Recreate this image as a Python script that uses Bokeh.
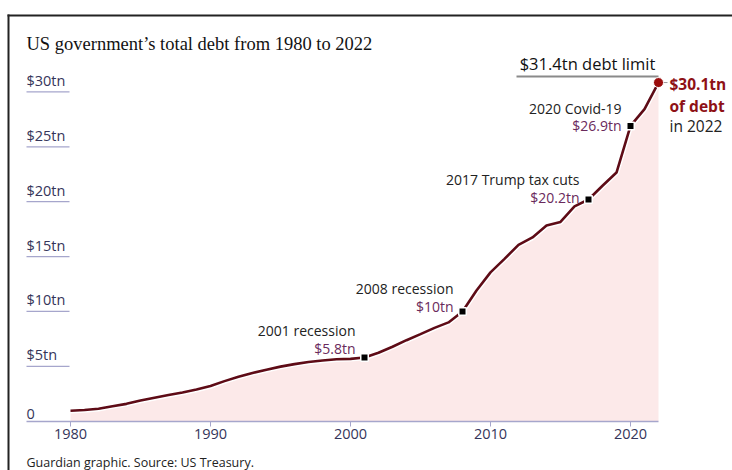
from bokeh.plotting import figure
from bokeh.models import Range1d, LinearAxis, FixedTicker
from bokeh.core.properties import value
from bokeh.embed import file_html
from bokeh.resources import INLINE

# ---------------- data ----------------
years = list(range(1980, 2023))
debt = [0.95, 1.02, 1.14, 1.37, 1.58, 1.88, 2.14, 2.38, 2.62, 2.88, 3.2,
        3.65, 4.05, 4.4, 4.69, 4.97, 5.2, 5.4, 5.53, 5.64, 5.68, 5.8,
        6.23, 6.78, 7.38, 7.93, 8.5, 9.0, 10.0, 11.9, 13.56, 14.79,
        16.07, 16.74, 17.82, 18.15, 19.57, 20.2, 21.45, 22.65, 26.9,
        28.43, 30.85]

x_ticks = [1980, 1990, 2000, 2010, 2020]
y_ticks = [0, 5, 10, 15, 20, 25, 30]
y_tick_labels = ["0", "$5tn", "$10tn", "$15tn", "$20tn", "$25tn", "$30tn"]

event_years = [2001, 2008, 2017, 2020]
event_values = [5.8, 10.0, 20.2, 26.9]
event_names = ["2001 recession", "2008 recession", "2017 Trump tax cuts", "2020 Covid-19"]
event_amounts = ["$5.8tn", "$10tn", "$20.2tn", "$26.9tn"]

debt_limit = 31.4
debt_limit_label = "$31.4tn debt limit"
end_lines = ["$30.1tn", "of debt", "in 2022"]

title = "US government\u2019s total debt from 1980 to 2022"
source = "Guardian graphic. Source: US Treasury."

# ---------------- layout constants (pixels -> data) ----------------
W, H = 732, 470
PX_PER_YEAR = 14.0
X_LEFT = 1975.0                 # year at canvas left edge
PX_PER_TN = 10.977
ZERO_PX = 420.7                 # pixel row of y = 0

def xd(px):
    return X_LEFT + px / PX_PER_YEAR

def yd(py):
    return (ZERO_PX - py) / PX_PER_TN

p = figure(width=W, height=H, output_backend="svg", toolbar_location=None,
           x_axis_type=None, y_axis_type=None, min_border=0,
           x_range=Range1d(xd(0), xd(W)), y_range=Range1d(yd(H), yd(0)))
p.outline_line_color = None
p.background_fill_color = "white"
p.border_fill_color = "white"

SANS = value("Open Sans")
AXIS_COL = "#a6a6cc"
LAB_COL = "#35355a"
AMT_COL = "#6a2a5c"
LINE_COL = "#5e0b16"
RED = "#8e1116"

# outer frame lines
p.segment(x0=[xd(7), xd(8)], y0=[yd(15), yd(14)], x1=[xd(W), xd(8)], y1=[yd(15), yd(H)],
          line_color="#222222", line_width=2)

# area + line
p.varea(x=years, y1=[0] * len(years), y2=debt, fill_color="#fce9e9")
p.line(years, debt, line_color="white", line_width=5.5)
p.line(years, debt, line_color=LINE_COL, line_width=2.6)

# x axis (real axis fixed at y = 0)
xaxis = LinearAxis(fixed_location=0, ticker=FixedTicker(ticks=x_ticks),
                   bounds=(xd(26), years[-1]),
                   axis_line_color=AXIS_COL, axis_line_width=1.5,
                   major_tick_line_color=AXIS_COL, major_tick_in=0, major_tick_out=5,
                   minor_tick_line_color=None,
                   major_label_text_font="Open Sans", major_label_text_font_size="14.5px",
                   major_label_text_color=LAB_COL, major_label_standoff=3)
p.add_layout(xaxis, "below")

# y gridlines (short) and labels
gy = [v for v in y_ticks if v != 0]
p.segment(x0=[xd(26)] * len(gy), y0=gy, x1=[xd(69)] * len(gy), y1=gy,
          line_color=AXIS_COL, line_width=1.2)
p.text(x=[xd(26)] * len(y_ticks), y=y_ticks, text=y_tick_labels,
       text_font=SANS, text_font_size="14.5px", text_color=LAB_COL,
       text_baseline="bottom", y_offset=-2)

# event markers and labels
p.scatter(event_years, event_values, marker="square", size=7.5,
          fill_color="black", line_color="white", line_width=1.5)
name_off = [-27, -23, -20, -17]
amt_off = [-9, -5, -2, 0]
p.text(x=event_years, y=event_values, text=event_names, x_offset=-9, y_offset=name_off,
       text_font=SANS, text_font_size="14px", text_color="#222222",
       text_align="right", text_baseline="middle")
p.text(x=event_years, y=event_values, text=event_amounts, x_offset=-9, y_offset=amt_off,
       text_font=SANS, text_font_size="14px", text_color=AMT_COL,
       text_align="right", text_baseline="middle")

# debt limit
lim_x0 = xd(516)
p.segment(x0=[lim_x0], y0=[debt_limit], x1=[years[-1]], y1=[debt_limit],
          line_color="#8a8a8a", line_width=2)
p.text(x=[(lim_x0 + years[-1]) / 2], y=[debt_limit], text=[debt_limit_label],
       y_offset=-13, text_font=SANS, text_font_size="16.5px", text_font_style="normal",
       text_color="#111111", text_align="center", text_baseline="middle")

# end point
p.segment(x0=[years[-1]], y0=[debt[-1]], x1=[years[-1] + 9 / PX_PER_YEAR], y1=[debt[-1]],
          line_color="#999999", line_width=1)
p.scatter([years[-1]], [debt[-1]], marker="circle", size=10, fill_color="#9b0d0d",
          line_color="white", line_width=1)
p.text(x=[years[-1]] * 3, y=[debt[-1]] * 3, text=end_lines, x_offset=11,
       y_offset=[1, 23, 43], text_font=SANS, text_font_size="15.5px",
       text_color=[RED, RED, "#222222"], text_font_style=["bold", "bold", "normal"],
       text_baseline="middle")

# title and source
p.text(x=[xd(26)], y=[yd(43)], text=[title], text_font=value("Liberation Serif"),
       text_font_size="18.5px", text_color="#121212", text_baseline="alphabetic")
p.text(x=[xd(26)], y=[yd(462)], text=[source], text_font=SANS,
       text_font_size="12.5px", text_color="#222222", text_baseline="middle")

open("out.html", "w").write(file_html(p, INLINE))
